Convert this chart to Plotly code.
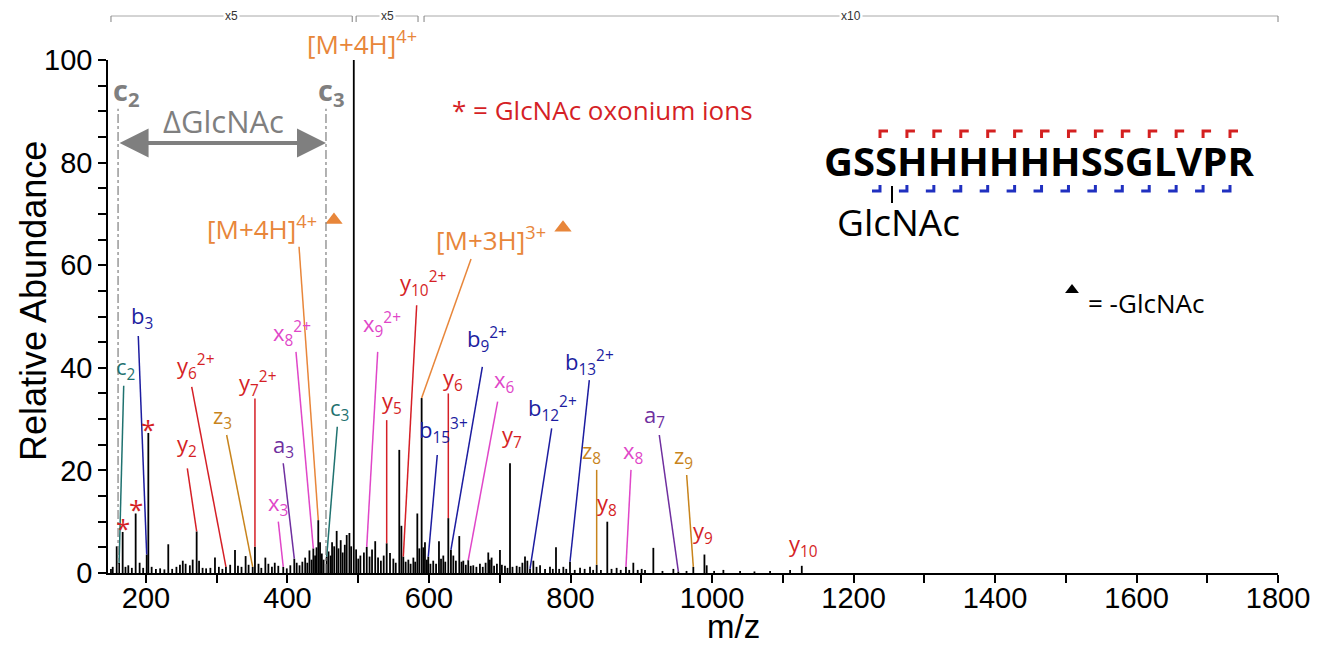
import plotly.graph_objects as go

# ---------------- spectrum data (m/z, relative abundance) ----------------
peak_mz = [
    150.5, 153, 158.6, 162, 167, 171, 175, 180, 185.4, 191, 196, 201, 203.3, 208, 214, 220, 226,
    231.5, 237, 243, 248, 252, 256, 262, 266, 271.6, 275, 280, 285, 291, 297.5, 303, 308, 313,
    319, 325.8, 330, 335, 340.8, 345, 350.8, 354, 359, 363, 368.7, 373, 378, 382, 387, 394, 399,
    404, 409.6, 413, 417, 421, 425, 428, 431, 434, 436.5, 439, 441, 443.5, 446, 448.5, 451,
    455.4, 458, 461, 463, 466, 469.5, 472, 475.2, 478, 481, 483.7, 487.5, 490, 493.7, 497, 500,
    503, 508, 512, 516, 519.5, 524, 528, 532, 536, 540.2, 544.9, 549.6, 553, 558, 561, 563.7,
    567, 570.8, 574, 577.9, 580.5, 583.5, 586.3, 589.6, 592, 594.3, 597, 599, 602, 606, 610,
    614.1, 617, 620.2, 623, 627.3, 631, 634.4, 638, 642.8, 646, 648.5, 652, 655.5, 659, 662.6,
    667, 672, 676, 680, 683.8, 686, 688.5, 692, 696, 700.3, 703, 707.4, 711, 714.5, 718, 723.9,
    728, 732, 735.7, 739, 742.8, 747.5, 752, 757, 764, 771, 775, 779.5, 784, 789.9, 794, 799.3,
    806, 813.5, 820, 827.6, 832, 837, 843, 852, 858, 865.2, 871, 878.4, 883, 888.8, 895, 900.6,
    905.3, 917.1, 930, 945.4, 952.4, 964, 973.6, 989.3, 992.5, 1003, 1016.1, 1039.7, 1060,
    1082.1, 1110.4, 1126.9,
]
peak_int = [
    0.8, 1.2, 5.2, 2.0, 8.0, 1.2, 1.5, 1.0, 11.6, 2.0, 1.0, 3.6, 27.3, 1.2, 0.8, 0.9, 0.7,
    5.6, 0.8, 1.2, 1.6, 2.4, 1.8, 1.5, 2.6, 8.1, 2.4, 1.0, 0.9, 1.0, 3.0, 1.2, 0.8, 1.2,
    1.6, 4.5, 1.4, 1.2, 3.3, 1.6, 1.2, 5.1, 1.8, 1.0, 3.0, 1.8, 1.2, 2.0, 1.4, 1.2, 0.9,
    1.5, 2.8, 2.0, 1.5, 2.2, 3.0, 2.0, 4.4, 2.6, 4.8, 3.4, 5.0, 10.3, 6.0, 3.8, 2.6,
    3.2, 4.2, 3.4, 6.0, 5.2, 8.2, 4.8, 6.4, 4.0, 5.5, 7.4, 7.8, 5.2, 100.0, 4.6, 2.8,
    3.4, 4.0, 5.1, 3.2, 4.6, 6.2, 3.0, 2.4, 3.4, 5.8, 3.9, 2.8, 2.0, 24.0, 9.2, 3.2,
    2.2, 2.6, 1.8, 3.0, 2.2, 11.6, 4.8, 34.1, 5.0, 6.0, 2.6, 3.2, 1.8, 2.4, 1.8,
    6.2, 2.8, 3.4, 2.2, 10.7, 4.5, 3.4, 2.4, 7.2, 2.2, 2.4, 1.6, 2.5, 1.4, 1.5,
    1.2, 1.8, 1.2, 2.0, 4.0, 2.6, 3.0, 1.4, 1.8, 4.5, 1.6, 1.4, 1.0, 21.4, 1.2, 1.4,
    1.2, 2.0, 3.2, 2.4, 0.8, 2.4, 1.2, 1.5, 0.8, 1.2, 0.8, 5.0, 0.8, 1.2, 0.8, 2.2,
    0.6, 1.0, 0.8, 1.2, 0.6, 1.6, 0.6, 10.0, 0.8, 1.0, 0.6, 1.2, 0.6, 2.0, 0.6, 0.8,
    0.6, 4.9, 0.4, 0.8, 0.3, 0.4, 1.2, 3.6, 1.5, 0.4, 0.6, 0.4, 0.3,
    0.4, 0.6, 1.4,
]

# ---------------- assigned fragment ions ----------------
ion_labels = [
    "c<sub>2</sub>", "b<sub>3</sub>", "y<sub>2</sub>", "y<sub>6</sub><sup>2+</sup>", "z<sub>3</sub>",
    "y<sub>7</sub><sup>2+</sup>", "a<sub>3</sub>", "x<sub>3</sub>", "x<sub>8</sub><sup>2+</sup>",
    "c<sub>3</sub>", "x<sub>9</sub><sup>2+</sup>", "y<sub>10</sub><sup>2+</sup>", "y<sub>5</sub>",
    "y<sub>6</sub>", "b<sub>15</sub><sup>3+</sup>", "b<sub>9</sub><sup>2+</sup>", "x<sub>6</sub>",
    "y<sub>7</sub>", "b<sub>12</sub><sup>2+</sup>", "b<sub>13</sub><sup>2+</sup>", "z<sub>8</sub>",
    "y<sub>8</sub>", "x<sub>8</sub>", "a<sub>7</sub>", "z<sub>9</sub>", "y<sub>9</sub>",
    "y<sub>10</sub>",
]
ion_series = ["c", "b", "y", "y", "z", "y", "a", "x", "x", "c", "x", "y", "y", "y", "b", "b", "x",
              "y", "b", "b", "z", "y", "x", "a", "z", "y", "y"]
ion_mz = [162, 201, 271.6, 313, 350.8, 354, 409.6, 394, 436.5, 455.4, 512, 563.7, 540.2, 627.3,
          599, 631, 655.5, 714.5, 742.8, 799.3, 837, 852, 878.4, 952.4, 973.6, 989.3, 1126.9]
ion_int = [2.0, 3.6, 8.1, 1.2, 1.2, 5.1, 2.8, 1.2, 4.8, 3.2, 5.1, 3.2, 5.8, 10.7,
           3.2, 4.5, 2.5, 21.4, 0.8, 2.2, 1.6, 10.0, 1.2, 0.3, 1.2, 3.6, 1.4]

# GlcNAc oxonium ions
oxonium_mz = [167.0, 185.4, 203.3]
oxonium_int = [8.0, 11.6, 27.3]

# precursor ions after loss of GlcNAc
precursor_labels = ["[M+4H]<sup>4+</sup>", "[M+3H]<sup>3+</sup>"]
precursor_mz = [443.5, 589.6]
precursor_int = [10.3, 34.1]

# intact glycopeptide precursor
intact_label = "[M+4H]<sup>4+</sup>"
intact_mz = 493.7

# c2 / c3 pair bracketing the GlcNAc shift
shift_mz = [160.5, 454.4]
shift_labels = ["c<sub>2</sub>", "c<sub>3</sub>"]

# magnified m/z windows
zoom_start = [150.5, 497.0, 593.0]
zoom_end = [491.5, 584.5, 1800.0]
zoom_factor = ["x5", "x5", "x10"]

sequence = "GSSHHHHHHSSGLVPR"

# ---------------- styling ----------------
series_color = {
    "a": "#6f2f9f", "b": "#1c1ca0", "c": "#1f7270", "x": "#e046c8",
    "y": "#d51f26", "z": "#c8841c",
}
ORANGE = "#e8863a"
RED = "#d51f26"
GREY = "#7f7f7f"
LABEL_FONT = "Open Sans"
AXIS_FONT = "Liberation Sans, Arial, sans-serif"

W, H = 1328, 647
ML, MR, MT, MB = 108, 50, 60, 74
X0, X1 = 146.3, 1800.0


def paper(px, py):
    return (px - ML) / (W - ML - MR), (H - MB - py) / (H - MT - MB)


def mz_paper(mz):
    return (mz - X0) / (X1 - X0)


def paper_text(px, py, text, size, color, family=LABEL_FONT, xanchor="center", **kw):
    x, y = paper(px, py)
    return dict(x=x, y=y, xref="paper", yref="paper", text=text, showarrow=False,
                xanchor=xanchor, yanchor="middle",
                font=dict(family=family, size=size, color=color), **kw)


# label centre (m/z, abundance) and connector start for each ion
ion_layout = [
    (170.5, 40.0, 168.5, 36.5), (194.0, 50.0, 189.1, 46.2), (258.5, 25.0, 258.4, 20.4),
    (270.0, 40.3, 264.6, 36.3), (308.0, 30.5, 314.0, 26.9), (357.0, 37.0, 354.0, 34.0),
    (394.5, 24.8, 394.0, 21.4), (386.0, 13.5, 387.0, 10.0), (406.0, 46.6, 412.0, 43.1),
    (474.0, 32.0, 470.4, 28.5), (533.0, 48.5, 527.5, 43.1), (592.0, 56.4, 582.6, 52.2),
    (547.5, 33.3, 540.2, 29.8), (633.5, 37.8, 627.3, 35.0), (621.0, 27.8, 611.7, 23.0),
    (682.0, 45.6, 675.4, 40.2), (707.4, 37.5, 697.0, 33.4), (717.0, 26.8, None, None),
    (774.0, 32.0, 773.4, 28.2), (827.0, 41.1, 826.6, 37.6), (830.0, 23.6, 837.0, 20.1),
    (851.2, 13.5, None, None), (889.0, 23.6, 885.5, 20.1), (919.4, 30.7, 925.5, 26.9),
    (959.4, 22.6, 964.2, 19.1), (987.7, 8.0, None, None), (1129.0, 5.4, None, None),
]
precursor_layout = [(364.0, 67.3, 416.3, 63.6), (688.0, 65.1, 659.4, 61.2)]
precursor_marker = [(465.7, 68.8), (789.4, 67.3)]

# ---------------- figure ----------------
stick_x, stick_y = [], []
for m, i in zip(peak_mz, peak_int):
    stick_x += [m, m, None]
    stick_y += [0, i, None]

fig = go.Figure()
fig.add_trace(go.Scatter(x=stick_x, y=stick_y, mode="lines",
                         line=dict(color="black", width=1.8), hoverinfo="skip", showlegend=False))

# triangles marking -GlcNAc precursors
fig.add_trace(go.Scatter(x=[p[0] for p in precursor_marker], y=[p[1] for p in precursor_marker],
                         mode="markers", marker=dict(symbol="triangle-up", size=15, color=ORANGE),
                         showlegend=False, hoverinfo="skip", cliponaxis=False))
lx, ly = paper(1072, 290)
fig.add_trace(go.Scatter(x=[X0 + lx * (X1 - X0)], y=[ly * 100], mode="markers",
                         marker=dict(symbol="triangle-up", size=12, color="black"),
                         showlegend=False, hoverinfo="skip", cliponaxis=False))

shapes = []
annotations = []

# fragment ion labels and connectors
for text, s, m, i, (tx, ty, lx0, ly0) in zip(ion_labels, ion_series, ion_mz, ion_int, ion_layout):
    col = series_color[s]
    annotations.append(dict(x=tx, y=ty, xref="x", yref="y", text=text, showarrow=False,
                            xanchor="center", yanchor="middle",
                            font=dict(family=LABEL_FONT, size=22, color=col)))
    if lx0 is not None:
        shapes.append(dict(type="line", xref="x", yref="y", x0=lx0, y0=ly0, x1=m, y1=i,
                           line=dict(color=col, width=1.5)))

for text, m, i, (tx, ty, lx0, ly0) in zip(precursor_labels, precursor_mz, precursor_int, precursor_layout):
    annotations.append(dict(x=tx, y=ty, xref="x", yref="y", text=text, showarrow=False,
                            xanchor="center", yanchor="middle",
                            font=dict(family=LABEL_FONT, size=26, color=ORANGE)))
    shapes.append(dict(type="line", xref="x", yref="y", x0=lx0, y0=ly0, x1=m, y1=i,
                       line=dict(color=ORANGE, width=1.5)))

annotations.append(paper_text(362, 43, intact_label, 26, ORANGE))

# oxonium ion asterisks
for m, i in zip(oxonium_mz, oxonium_int):
    annotations.append(dict(x=m, y=i, xref="x", yref="y", text="*", showarrow=False,
                            xanchor="center", yanchor="middle", yshift=4,
                            font=dict(family=LABEL_FONT, size=26, color=RED)))

# c2 -> c3 GlcNAc shift
for m, t, dx in zip(shift_mz, shift_labels, (12, 8)):
    shapes.append(dict(type="line", xref="x", yref="y", x0=m, x1=m, y0=0, y1=90.5,
                       line=dict(color=GREY, width=1.2, dash="dashdot")))
    annotations.append(dict(x=m + dx, y=93.8, xref="x", yref="y", text="<b>" + t + "</b>",
                            showarrow=False, xanchor="center", yanchor="middle",
                            font=dict(family=LABEL_FONT, size=29, color=GREY)))
annotations.append(dict(x=shift_mz[1], y=83.8, ax=shift_mz[0], ay=83.8, xref="x", yref="y",
                        axref="x", ayref="y", text="", showarrow=True, arrowhead=2,
                        arrowside="end+start", arrowsize=1.45, arrowwidth=4, arrowcolor=GREY))
annotations.append(dict(x=(shift_mz[0] + shift_mz[1]) / 2 + 2, y=88.2, xref="x", yref="y",
                        text="ΔGlcNAc", showarrow=False, xanchor="center", yanchor="middle",
                        font=dict(family=LABEL_FONT, size=31, color=GREY)))

annotations.append(paper_text(602, 110, "* = GlcNAc oxonium ions", 26, RED))
annotations.append(paper_text(1086, 303, "= -GlcNAc", 26, "black", xanchor="left"))

# axis titles
annotations.append(paper_text(33, 301, "Relative Abundance", 36, "black", family=AXIS_FONT,
                              textangle=-90))
annotations.append(paper_text(733, 626, "m/z", 33, "black", family=AXIS_FONT, borderpad=0))

# magnification bars above the plot
bar_y = paper(0, 16)[1]
tick_y = paper(0, 22)[1]
for a, b, f in zip(zoom_start, zoom_end, zoom_factor):
    pa, pb = mz_paper(a), mz_paper(b)
    shapes.append(dict(type="line", xref="paper", yref="paper", x0=pa, x1=pb, y0=bar_y, y1=bar_y,
                       line=dict(color="#a8a8a8", width=1)))
    for p in (pa, pb):
        shapes.append(dict(type="line", xref="paper", yref="paper", x0=p, x1=p, y0=bar_y, y1=tick_y,
                           line=dict(color="#808080", width=1)))
    annotations.append(dict(x=(pa + pb) / 2, y=bar_y, xref="paper", yref="paper", text=f,
                            showarrow=False, bgcolor="white", borderpad=1,
                            xanchor="center", yanchor="middle",
                            font=dict(family=AXIS_FONT, size=12, color="#333333")))

# peptide sequence with cleavage map
annotations.append(paper_text(1039, 160, "<b>" + sequence + "</b>", 40, "black"))
n_sites = len(sequence) - 2
for k in range(n_sites):
    cx = 880 + k * (1230 - 880) / (n_sites - 1)
    # red (top) mark
    x0, y0 = paper(cx, 138)
    x1, y1 = paper(cx, 131)
    x2, _ = paper(cx + 8, 131)
    shapes.append(dict(type="path", xref="paper", yref="paper",
                       path=f"M{x0},{y0} L{x1},{y1} L{x2},{y1}",
                       line=dict(color="#d42020", width=3)))
    # blue (bottom) mark
    bx0, by0 = paper(cx, 185)
    bx1, by1 = paper(cx, 191)
    bx2, _ = paper(cx - 8, 191)
    shapes.append(dict(type="path", xref="paper", yref="paper",
                       path=f"M{bx0},{by0} L{bx1},{by1} L{bx2},{by1}",
                       line=dict(color="#2030c0", width=3)))
gx0, gy0 = paper(892, 186)
_, gy1 = paper(892, 203)
shapes.append(dict(type="line", xref="paper", yref="paper", x0=gx0, x1=gx0, y0=gy0, y1=gy1,
                   line=dict(color="black", width=2)))
annotations.append(paper_text(898, 221, "GlcNAc", 37, "black"))

fig.update_layout(
    width=W, height=H,
    margin=dict(l=ML, r=MR, t=MT, b=MB, autoexpand=False),
    plot_bgcolor="white", paper_bgcolor="white",
    shapes=shapes, annotations=annotations,
    xaxis=dict(range=[X0, X1], tickmode="array", tickvals=list(range(200, 1801, 200)),
               showline=True, linecolor="black", linewidth=1.5, ticks="outside", ticklen=8,
               tickwidth=1.5, tickcolor="black", showgrid=False, zeroline=False,
               ticklabelstandoff=-10,
               tickfont=dict(family=AXIS_FONT, size=29, color="black"),
               minor=dict(dtick=100, tick0=0, ticks="outside", ticklen=8, tickwidth=1.5,
                          tickcolor="black", showgrid=False)),
    yaxis=dict(range=[0, 100], tickmode="array", tickvals=list(range(0, 101, 20)),
               showline=True, linecolor="black", linewidth=1.5, ticks="outside", ticklen=8,
               tickwidth=1.5, tickcolor="black", showgrid=False, zeroline=False,
               tickfont=dict(family=AXIS_FONT, size=29, color="black"),
               minor=dict(dtick=5, tick0=0, ticks="outside", ticklen=8, tickwidth=1.5,
                          tickcolor="black", showgrid=False)),
)

fig.write_html("out.html")
